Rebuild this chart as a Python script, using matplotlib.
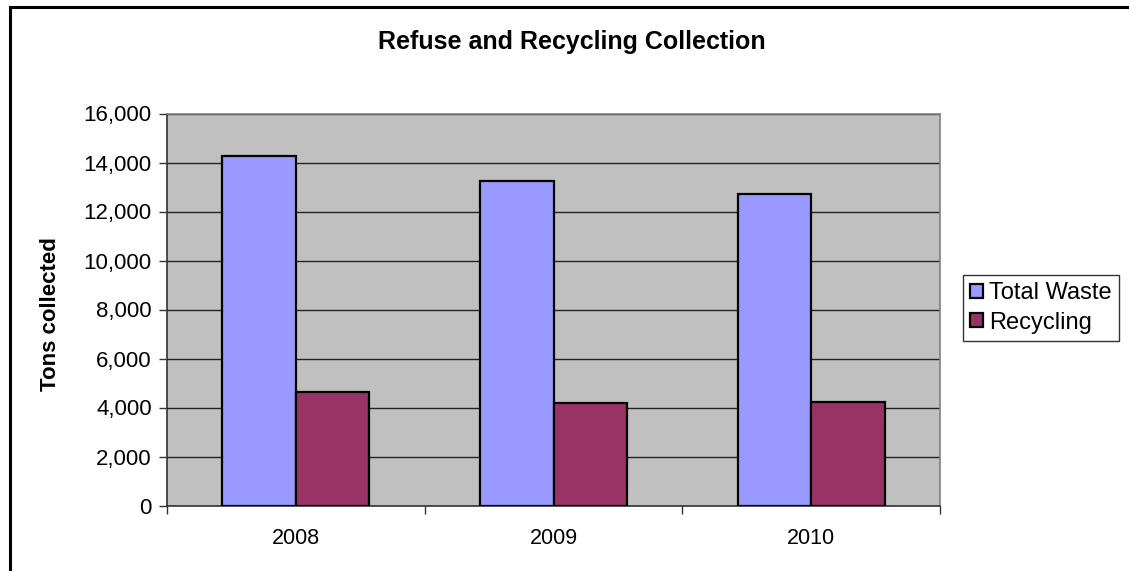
import matplotlib.pyplot as plt
import numpy as np
from matplotlib.patches import Rectangle
from matplotlib.ticker import FuncFormatter

years = ['2008', '2009', '2010']
total_waste = [14250, 13250, 12720]
recycling = [4630, 4170, 4210]
y_ticks = [0, 2000, 4000, 6000, 8000, 10000, 12000, 14000, 16000]

plt.rcParams['font.family'] = ['Liberation Sans', 'DejaVu Sans']

fig = plt.figure(figsize=(11.29, 5.71), dpi=100)
# outer chart border (right/bottom edges run off the image)
fig.patches.append(Rectangle((10 / 1129, -0.05), 1.2, 1 - 7 / 571 + 0.05,
                             transform=fig.transFigure, fill=False,
                             edgecolor='black', linewidth=2.2))

ax = fig.add_axes([167 / 1129, 1 - 505.5 / 571, (940 - 167) / 1129, (505.5 - 113.5) / 571])
ax.set_facecolor('#C0C0C0')

x = np.arange(len(years))
w = 1 / 3.5
ax.bar(x - w / 2, total_waste, w, color='#9999FF', edgecolor='black', linewidth=1.6,
       label='Total Waste', zorder=3)
ax.bar(x + w / 2, recycling, w, color='#993366', edgecolor='black', linewidth=1.6,
       label='Recycling', zorder=3)

ax.set_xlim(-0.5, len(years) - 0.5)
ax.set_ylim(0, 16000)
ax.set_yticks(y_ticks)
ax.yaxis.set_major_formatter(FuncFormatter(lambda v, p: f'{int(v):,}'))
ax.set_xticks(x)
ax.set_xticklabels(years)
ax.set_xticks(np.arange(len(years) + 1) - 0.5, minor=True)
ax.tick_params(axis='x', which='major', length=0, labelsize=15.5, pad=16)
ax.tick_params(axis='x', which='minor', length=6, width=1, color='#333333')
ax.tick_params(axis='y', length=6, width=1, color='#333333', labelsize=16, pad=5)
ax.grid(axis='y', color='#222222', linewidth=1, zorder=1)
ax.set_axisbelow(True)

for s in ['top', 'right']:
    ax.spines[s].set_color('#808080')
    ax.spines[s].set_linewidth(1.2)
for s in ['left', 'bottom']:
    ax.spines[s].set_color('#333333')
    ax.spines[s].set_linewidth(1.2)

fig.text(51 / 1129, 1 - 314 / 571, 'Tons collected', fontsize=16, fontweight='bold',
         rotation=90, ha='center', va='center')
fig.text(572 / 1129, 1 - 42 / 571, 'Refuse and Recycling Collection', fontsize=18,
         fontweight='bold', ha='center', va='center')

leg = fig.legend(loc='center left', bbox_to_anchor=(963 / 1129, 1 - 308 / 571),
                 fontsize=17, frameon=True, fancybox=False, handlelength=0.55,
                 handleheight=0.55, handletextpad=0.25, borderpad=0.3,
                 labelspacing=0.3, borderaxespad=0)
leg.get_frame().set_edgecolor('black')
leg.get_frame().set_linewidth(1)

fig.savefig('out.png', dpi=100)
